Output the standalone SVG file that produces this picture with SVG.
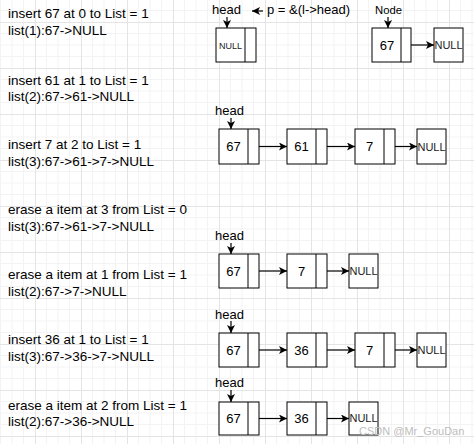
<svg xmlns="http://www.w3.org/2000/svg" width="474" height="444" viewBox="0 0 474 444">
<defs>
<pattern id="grid" x="35" y="22" width="46" height="46" patternUnits="userSpaceOnUse">
<path d="M11.5 0V46M23 0V46M34.5 0V46M0 11.5H46M0 23H46M0 34.5H46" stroke="#f3f3f3" stroke-width="1" fill="none"/>
<path d="M0.5 0V46M0 0.5H46" stroke="#e4e4e4" stroke-width="1" fill="none"/>
</pattern>
<marker id="ah" viewBox="0 0 8 8" refX="8" refY="4" markerWidth="8" markerHeight="8" markerUnits="userSpaceOnUse" orient="auto">
<path d="M0 0L8 4L0 8L2 4Z" fill="#000"/>
</marker>
<style>
.lbl{font-family:"Liberation Sans",Arial,sans-serif;font-size:13.5px;fill:#000}
.hd{font-family:"Liberation Sans",Arial,sans-serif;font-size:13px;fill:#000}
.val{font-family:"Liberation Sans",Arial,sans-serif;font-size:13px;fill:#000;text-anchor:middle}
.nul{font-family:"Liberation Sans",Arial,sans-serif;font-size:11px;fill:#222;text-anchor:middle}
.box{fill:#fff;stroke:#000;stroke-width:1}
.cn{stroke:#000;stroke-width:1.2;fill:none;marker-end:url(#ah)}
</style>
</defs>
<rect width="474" height="444" fill="#fff"/>
<rect width="474" height="444" fill="url(#grid)"/>

<g id="texts">
<text class="lbl" x="8" y="18">insert 67 at 0 to List = 1</text>
<text class="lbl" x="8" y="35">list(1):67-&gt;NULL</text>
<text class="lbl" x="8" y="85">insert 61 at 1 to List = 1</text>
<text class="lbl" x="8" y="101">list(2):67-&gt;61-&gt;NULL</text>
<text class="lbl" x="8" y="149">insert 7 at 2 to List = 1</text>
<text class="lbl" x="8" y="166">list(3):67-&gt;61-&gt;7-&gt;NULL</text>
<text class="lbl" x="8" y="214">erase a item at 3 from List = 0</text>
<text class="lbl" x="8" y="231">list(3):67-&gt;61-&gt;7-&gt;NULL</text>
<text class="lbl" x="8" y="279">erase a item at 1 from List = 1</text>
<text class="lbl" x="8" y="296">list(2):67-&gt;7-&gt;NULL</text>
<text class="lbl" x="8" y="344">insert 36 at 1 to List = 1</text>
<text class="lbl" x="8" y="361">list(3):67-&gt;36-&gt;7-&gt;NULL</text>
<text class="lbl" x="8" y="410">erase a item at 2 from List = 1</text>
<text class="lbl" x="8" y="426">list(2):67-&gt;36-&gt;NULL</text>
</g>

<g id="labels">
<text class="hd" x="212" y="14">head</text>
<text class="hd" x="267" y="14">p = &amp;(l-&gt;head)</text>
<text class="hd" x="375" y="14" style="font-size:11.3px">Node</text>
<text class="hd" x="215" y="115">head</text>
<text class="hd" x="215" y="240">head</text>
<text class="hd" x="215" y="319">head</text>
<text class="hd" x="215" y="387">head</text>
</g>

<g id="row0">
<g id="r0-head"><rect class="box" x="216" y="28" width="40" height="34"/><line x1="245" y1="28" x2="245" y2="62" stroke="#000"/><text class="nul" x="230.5" y="48.5" style="font-size:9px">NULL</text></g>
<g id="r0-node"><rect class="box" x="372" y="28" width="39" height="34"/><line x1="401" y1="28" x2="401" y2="62" stroke="#000"/><text class="val" x="387" y="50">67</text></g>
<g id="r0-null"><rect class="box" x="434" y="28" width="29" height="34"/><text class="nul" x="448.5" y="49">NULL</text></g>
</g>

<g id="row1">
<g id="r1-n1"><rect class="box" x="219" y="129" width="40" height="35"/><line x1="248" y1="129" x2="248" y2="164" stroke="#000"/><text class="val" x="233.5" y="151">67</text></g>
<g id="r1-n2"><rect class="box" x="287" y="129" width="40" height="35"/><line x1="316" y1="129" x2="316" y2="164" stroke="#000"/><text class="val" x="301.5" y="151">61</text></g>
<g id="r1-n3"><rect class="box" x="355" y="129" width="40" height="35"/><line x1="384" y1="129" x2="384" y2="164" stroke="#000"/><text class="val" x="369.5" y="151">7</text></g>
<g id="r1-null"><rect class="box" x="417" y="129" width="29" height="35"/><text class="nul" x="431.5" y="150.5">NULL</text></g>
</g>

<g id="row2">
<g id="r2-n1"><rect class="box" x="219" y="254" width="40" height="34"/><line x1="248" y1="254" x2="248" y2="288" stroke="#000"/><text class="val" x="233.5" y="276">67</text></g>
<g id="r2-n2"><rect class="box" x="287" y="254" width="40" height="34"/><line x1="316" y1="254" x2="316" y2="288" stroke="#000"/><text class="val" x="301.5" y="276">7</text></g>
<g id="r2-null"><rect class="box" x="349" y="254" width="29" height="34"/><text class="nul" x="363.5" y="275">NULL</text></g>
</g>

<g id="row3">
<g id="r3-n1"><rect class="box" x="219" y="333" width="40" height="34"/><line x1="248" y1="333" x2="248" y2="367" stroke="#000"/><text class="val" x="233.5" y="355">67</text></g>
<g id="r3-n2"><rect class="box" x="287" y="333" width="40" height="34"/><line x1="316" y1="333" x2="316" y2="367" stroke="#000"/><text class="val" x="301.5" y="355">36</text></g>
<g id="r3-n3"><rect class="box" x="355" y="333" width="40" height="34"/><line x1="384" y1="333" x2="384" y2="367" stroke="#000"/><text class="val" x="369.5" y="355">7</text></g>
<g id="r3-null"><rect class="box" x="417" y="333" width="29" height="34"/><text class="nul" x="431.5" y="354">NULL</text></g>
</g>

<g id="row4">
<g id="r4-n1"><rect class="box" x="219" y="402" width="40" height="33"/><line x1="248" y1="402" x2="248" y2="435" stroke="#000"/><text class="val" x="233.5" y="423">67</text></g>
<g id="r4-n2"><rect class="box" x="287" y="402" width="40" height="33"/><line x1="316" y1="402" x2="316" y2="435" stroke="#000"/><text class="val" x="301.5" y="423">36</text></g>
<g id="r4-null"><rect class="box" x="349" y="402" width="29" height="33"/><text class="nul" x="363.5" y="422">NULL</text></g>
</g>

<g id="connectors">
<line class="cn" x1="263" y1="11" x2="252" y2="11"/>
<line class="cn" x1="227" y1="17" x2="227" y2="28"/>
<line class="cn" x1="388" y1="17" x2="388" y2="28"/>
<line class="cn" x1="411" y1="45" x2="434" y2="45"/>

<line class="cn" x1="231" y1="118" x2="231" y2="129"/>
<line class="cn" x1="259" y1="146.5" x2="287" y2="146.5"/>
<line class="cn" x1="327" y1="146.5" x2="355" y2="146.5"/>
<line class="cn" x1="395" y1="146.5" x2="417" y2="146.5"/>

<line class="cn" x1="231" y1="243" x2="231" y2="254"/>
<line class="cn" x1="259" y1="271" x2="287" y2="271"/>
<line class="cn" x1="327" y1="271" x2="349" y2="271"/>

<line class="cn" x1="231" y1="321" x2="231" y2="333"/>
<line class="cn" x1="259" y1="350" x2="287" y2="350"/>
<line class="cn" x1="327" y1="350" x2="355" y2="350"/>
<line class="cn" x1="395" y1="350" x2="417" y2="350"/>

<line class="cn" x1="231" y1="390" x2="231" y2="402"/>
<line class="cn" x1="259" y1="418.5" x2="287" y2="418.5"/>
<line class="cn" x1="327" y1="418.5" x2="349" y2="418.5"/>
</g>

<text x="359" y="435" style="font-family:'Liberation Sans',Arial,sans-serif;font-size:11px;fill:#bdbdbd">CSDN @Mr_GouDan</text>
</svg>
